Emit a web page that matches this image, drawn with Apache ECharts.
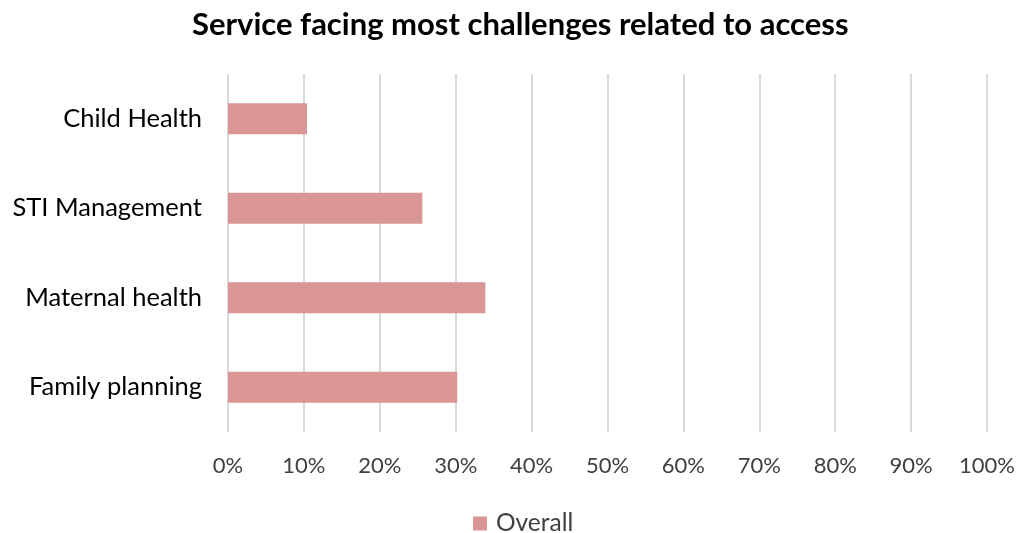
<!DOCTYPE html>
<html>
<head>
<meta charset="utf-8">
<script src="https://cdn.jsdelivr.net/npm/echarts@6/dist/echarts.min.js"></script>
<style>
  html, body { margin: 0; padding: 0; background: #fff; }
  #chart { width: 1018px; height: 533px; }
</style>
</head>
<body>
<div id="chart"></div>
<script>
// Services, listed bottom-to-top as they appear on the category axis
const categories = ['Family planning', 'Maternal health', 'STI Management', 'Child Health'];
// Share of respondents (%) naming each service
const overall = [30.2, 33.9, 25.6, 10.4];
const seriesName = 'Overall';
const titleText = 'Service facing most challenges related to access';

const FONT = 'Lato, "Open Sans", sans-serif';

const chart = echarts.init(document.getElementById('chart'));
chart.setOption({
  animation: false,
  title: {
    text: titleText,
    left: 187,
    top: 4,
    textStyle: { fontFamily: FONT, fontSize: 31, fontWeight: 'bold', color: '#000' }
  },
  legend: {
    data: [seriesName],
    top: 506,
    left: 468,
    icon: 'rect',
    itemWidth: 14,
    itemHeight: 14,
    itemGap: 8,
    textStyle: { fontFamily: FONT, fontSize: 24.5, color: '#404040', padding: [0, 0, 0, 4] }
  },
  grid: { left: 228, right: 30, top: 74, bottom: 101, containLabel: false },
  xAxis: {
    type: 'value',
    min: 0,
    max: 100,
    interval: 10,
    axisLine: { show: false },
    axisTick: { show: false },
    axisLabel: {
      formatter: '{value}%',
      margin: 23,
      fontFamily: FONT, fontSize: 22, color: '#404040'
    },
    splitLine: { show: true, lineStyle: { color: '#d9d9d9', width: 2 } }
  },
  yAxis: {
    type: 'category',
    data: categories,
    axisLine: { show: false },
    axisTick: { show: false },
    axisLabel: { margin: 26, fontFamily: FONT, fontSize: 25.5, color: '#000' }
  },
  series: [{
    name: seriesName,
    type: 'bar',
    data: overall,
    barCategoryGap: '65.5%',
    itemStyle: { color: '#d99694' }
  }]
});
</script>
</body>
</html>
